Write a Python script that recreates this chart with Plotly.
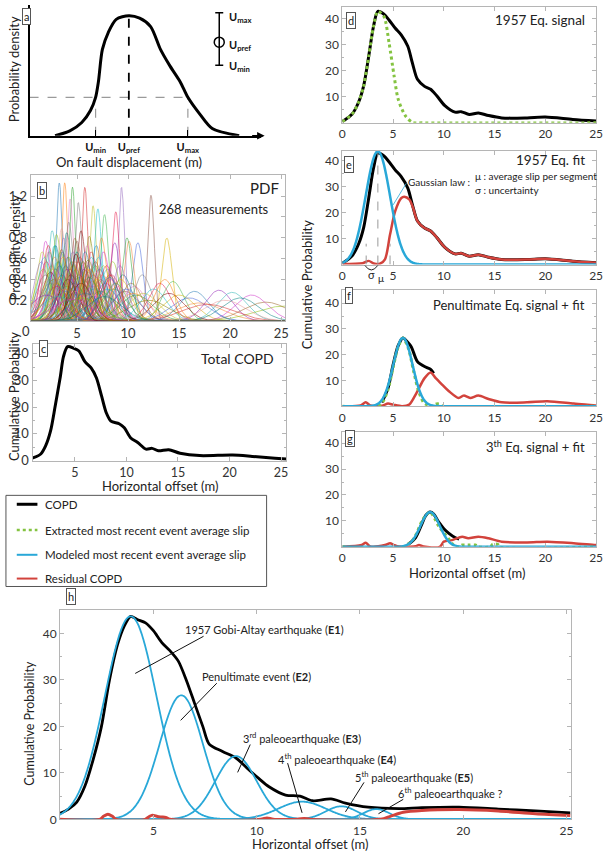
import numpy as np
import plotly.graph_objects as go

FONT = "Lato"
W, H = 609, 860
def px(x): return x / W
def py(y): return 1 - y / H

CYAN = "#29a8d8"; RED = "#d2433c"; GREEN = "#84c341"; BLACK = "#000000"; FRAME = "#b5b5b5"

# ---------------- data ----------------
# panel a: schematic PDF
a_x = [1.09, 1.72, 2.23, 2.6, 2.82, 2.94, 3.11, 3.36, 3.7, 4.24, 4.7, 5.17, 5.59, 6.0, 6.43, 6.76, 7.27, 7.8, 8.95]
a_y = [0.0, 0.04, 0.11, 0.21, 0.32, 0.45, 0.72, 0.86, 0.97, 1.0, 0.98, 0.91, 0.72, 0.58, 0.45, 0.32, 0.18, 0.06, 0.0]
u_min, u_pref, u_max, u_level = 2.82, 4.24, 6.76, 0.32
err_x, err_c, err_hi, err_lo = 8.1, 0.78, 1.025, 0.587

# panel b: individual measurement PDFs (mean, uncertainty)
pdf_mu = [3.27, 3.8, 4.56, 5.77, 9.36, 12.25, 4.33, 5.13, 6.57, 7.05, 8.8, 7.7,
          13.8, 10.96, 10.1, 8.7, 2.57, 1.93, 3.0, 3.5, 4.0, 4.8, 5.4, 6.2, 6.9, 7.4, 9.9, 2.2, 3.7, 5.0, 6.0, 4.2,
          1.6, 1.8, 2.0, 2.3, 2.5, 2.6, 2.8, 2.9, 3.1, 3.2, 3.4, 3.6, 3.9, 4.1, 4.4, 4.5, 4.7, 4.9, 5.2, 5.3,
          5.5, 5.6, 5.9, 6.1, 6.3, 6.4, 6.6, 6.8, 7.0, 7.2, 7.5, 7.8, 8.0, 8.3, 8.5, 9.0, 9.5, 10.3,
          2.4, 2.7, 3.3, 3.6, 4.0, 4.3, 4.6, 5.1, 5.5, 6.0, 6.5, 7.1, 7.9, 8.6,
          3.0, 3.9, 4.8, 5.7, 6.7, 7.6,
          1.7, 2.1, 2.9, 3.5, 4.1, 4.9, 5.8, 6.3, 7.3, 8.2, 9.2, 9.7, 10.6, 11.4,
          11.5, 12.5, 13.1, 14.4, 15.0, 16.0, 17.0, 18.9, 20.2, 22.1, 25.2, 19.5, 21.0, 23.5, 14.0, 12.0,
          16.5, 13.6, 10.8, 17.8,
          1.5, 1.9, 2.2, 2.4, 2.6, 2.8, 3.0, 3.2, 3.4, 3.6, 3.8, 4.0, 4.2, 4.4, 4.6, 4.8, 5.0, 5.2, 5.4, 5.6,
          5.8, 6.0, 6.2, 6.4, 6.6, 6.8, 7.0, 7.3, 7.6, 8.0, 8.4, 8.8, 9.3, 9.8, 10.5, 2.0, 3.1, 4.5, 5.5, 6.6,
          7.7, 3.5, 4.9, 6.1, 8.2]
pdf_sigma = [0.30, 0.30, 0.31, 0.31, 0.31, 0.33, 0.34, 0.35, 0.36, 0.37, 0.38, 0.39,
             0.50, 0.53, 0.52, 0.53, 0.46, 0.52, 0.48, 0.45, 0.47, 0.50, 0.46, 0.49, 0.55, 0.50, 0.50, 0.55, 0.50, 0.52, 0.55, 0.42,
             0.60, 0.65, 0.70, 0.60, 0.75, 0.90, 0.65, 0.80, 0.70, 1.00, 0.60, 0.85, 0.75, 0.65, 0.90, 0.70, 1.10, 0.80, 0.95, 0.65,
             0.75, 1.00, 0.70, 0.85, 1.20, 0.65, 0.90, 0.75, 1.00, 0.80, 0.90, 1.10, 0.80, 1.00, 0.70, 1.20, 0.90, 1.10,
             0.85, 1.00, 0.75, 0.65, 1.20, 0.80, 0.60, 0.70, 1.30, 0.75, 1.05, 0.65, 0.75, 1.30,
             1.10, 1.40, 0.70, 0.80, 1.30, 0.60,
             0.80, 1.00, 0.55, 0.90, 1.00, 1.20, 0.60, 0.80, 1.40, 0.90, 0.75, 1.40, 1.20, 0.90,
             1.50, 1.30, 1.10, 1.05, 1.60, 1.80, 2.30, 1.35, 1.45, 1.60, 2.80, 2.00, 1.80, 2.20, 1.50, 2.00,
             1.40, 1.00, 1.60, 2.50,
             0.70, 0.90, 0.60, 1.10, 0.80, 0.55, 1.20, 0.70, 0.95, 0.60, 1.30, 0.80, 0.65, 1.00, 0.75, 1.40, 0.60, 0.90, 1.10, 0.70,
             1.50, 0.80, 0.95, 0.60, 1.20, 0.70, 0.85, 1.00, 0.75, 1.30, 0.90, 1.10, 1.00, 1.30, 1.50, 1.60, 1.70, 1.90, 1.80, 1.60,
             1.70, 0.58, 0.62, 0.68, 0.95]

# panel c: total COPD
copd_c_x = [0.9, 1.07, 1.7, 2.17, 2.65, 3.1, 3.6, 3.9, 4.3, 4.9, 5.4, 5.98, 6.6, 7.1, 7.6, 8.05, 8.5, 9.3, 9.8,
            10.4, 11.1, 11.9, 12.5, 13.1, 14.1, 15.2, 17.1, 20.3, 22.2, 24.4, 25.5]
copd_c_y = [1.0, 1.2, 2.5, 5.5, 11.1, 20.4, 31.5, 38.9, 42.6, 42.0, 41.0, 37.0, 34.6, 30.9, 24.1, 17.9, 14.8, 13.8, 12.3,
            8.6, 6.8, 4.3, 4.6, 3.7, 4.1, 2.8, 1.9, 2.1, 1.6, 0.9, 0.6]

# panels d, e: COPD and 1957 signal
copd_d_x = [0.0, 0.16, 0.97, 1.6, 2.1, 2.6, 3.07, 3.5, 4.1, 4.6, 5.2, 5.8, 6.45, 6.9, 7.4, 8.1, 8.7, 9.3, 10.1,
            11.1, 11.7, 12.5, 13.4, 14.4, 15.7, 18.2, 20.0, 22.7, 25.0]
copd_d_y = [0.6, 0.9, 3.4, 7.9, 14.2, 25.6, 37.0, 42.8, 41.7, 39.5, 36.4, 33.8, 29.4, 23.0, 16.7, 14.0, 12.9, 10.4, 6.6,
            4.1, 4.3, 3.2, 3.8, 2.8, 1.9, 1.9, 2.2, 1.3, 0.7]
ext_d_x = [0.0, 0.16, 0.97, 1.6, 2.1, 2.6, 3.07, 3.5, 4.1, 4.6, 5.1, 5.5, 6.2, 6.9, 8.0, 25.0]
ext_d_y = [0.6, 0.9, 3.4, 7.9, 14.2, 25.6, 37.0, 42.8, 40.8, 30.8, 18.0, 9.1, 2.8, 0.2, 0.0, 0.0]

fit_e = dict(mu=3.5, sigma=1.2, amp=43.5)
res_e_x = [0.0, 2.0, 2.6, 3.1, 3.7, 4.2, 4.7, 5.2, 5.8, 6.1, 6.6, 6.95, 7.4, 8.1, 8.7, 9.3, 10.1,
           11.1, 11.7, 12.5, 13.4, 14.4, 15.7, 18.2, 20.0, 22.7, 25.0]
res_e_y = [0.2, 0.5, 1.4, 0.4, 0.3, 2.0, 11.5, 20.4, 25.5, 26.1, 25.0, 22.0, 16.7, 14.0, 12.9, 10.4, 6.6,
           4.1, 4.3, 3.2, 3.8, 2.8, 1.9, 1.9, 2.2, 1.3, 0.7]
e_guides_x = [2.35, 3.5, 4.7]
e_guides_top = [8.0, 43.5, 8.0]

# panel f: penultimate event
sig_f_x = [3.9, 4.5, 5.0, 5.5, 5.97, 6.4, 6.8, 7.4, 8.25, 8.7, 9.0]
sig_f_y = [1.5, 7.0, 16.0, 23.5, 26.5, 25.0, 23.0, 17.3, 15.1, 14.3, 12.8]
ext_f_x = [0.0, 3.5, 4.0, 4.5, 5.0, 5.5, 5.97, 6.5, 7.0, 7.5, 8.0, 8.3, 8.6, 9.0, 9.2, 9.6, 9.9, 25.0]
ext_f_y = [0.0, 0.0, 1.8, 6.5, 15.0, 23.0, 26.5, 22.5, 14.0, 6.0, 1.5, 0.6, 0.2, 0.0, 0.8, 0.8, 0.0, 0.0]
fit_f = dict(mu=5.97, sigma=0.95, amp=26.5)
res_f_x = [0.0, 1.8, 2.3, 2.75, 3.9, 4.5, 5.0, 5.9, 6.6, 7.3, 8.1, 8.7, 9.2, 9.85, 10.5, 11.45, 11.95, 12.6, 13.4,
           14.4, 15.7, 18.2, 20.2, 22.8, 24.9, 25.0]
res_f_y = [0.0, 0.3, 1.5, 0.3, 0.2, 1.0, 0.6, 0.0, 0.7, 5.1, 10.9, 13.1, 10.9, 8.3, 5.8, 3.2, 4.1, 3.2, 4.1,
           2.8, 1.5, 1.5, 1.9, 1.0, 0.3, 0.3]

# panel g: 3rd event
sig_g_x = [6.5, 7.2, 7.8, 8.2, 8.65, 9.0, 9.5, 10.0, 10.5, 11.1, 11.5]
sig_g_y = [1.0, 3.5, 8.5, 12.0, 13.4, 12.6, 9.5, 7.0, 5.2, 3.6, 3.0]
ext_g_x = [0.0, 6.0, 7.0, 8.0, 8.65, 9.5, 10.5, 11.0, 11.5, 11.8, 12.4, 13.1, 13.4, 14.6, 14.8, 15.3, 15.5, 25.0]
ext_g_y = [0.0, 0.0, 3.0, 11.0, 13.4, 8.0, 3.0, 0.5, 0.0, 0.7, 0.7, 0.7, 0.0, 0.0, 1.0, 1.0, 0.0, 0.0]
fit_g = dict(mu=8.65, sigma=0.95, amp=13.4)
res_g_x = [0.0, 1.9, 2.3, 2.75, 4.2, 4.7, 5.1, 5.6, 7.2, 7.55, 8.0, 9.6, 10.0, 10.8, 11.8, 12.4, 13.4, 14.4,
           15.7, 18.2, 20.2, 22.8, 24.9, 25.0]
res_g_y = [0.0, 0.7, 1.6, 0.2, 0.7, 1.4, 0.7, 0.1, 0.2, 0.7, 0.1, 0.0, 2.0, 2.6, 3.9, 3.3, 3.9, 3.3,
           2.0, 1.7, 2.0, 1.4, 0.7, 0.7]

# panel h: full decomposition
copd_h_x = [0.49, 0.89, 1.29, 1.68, 2.08, 2.48, 2.87, 3.27, 3.59, 3.9, 4.22, 4.62, 5.0, 5.4, 5.8, 6.2, 6.6, 7.0,
            7.4, 7.7, 8.35, 9.0, 9.54, 10.1, 10.6, 11.4, 12.1, 12.7, 13.6, 14.3, 15.4, 16.9, 18.0, 19.8, 21.7,
            23.5, 25.2]
copd_h_y = [1.3, 2.2, 3.7, 7.1, 12.8, 19.9, 29.9, 37.7, 41.6, 43.7, 43.0, 42.3, 40.6, 38.1, 36.3, 34.1, 29.9, 24.9,
            19.9, 16.2, 14.6, 13.2, 11.0, 8.8, 7.0, 5.2, 5.0, 4.0, 4.4, 3.5, 2.6, 2.3, 2.5, 2.6, 2.2, 1.8, 1.4]
event_mu = [3.9, 6.35, 9.0, 12.2, 14.1, 15.8]
event_sigma = [1.25, 1.05, 1.0, 1.15, 0.75, 0.62]
event_amp = [43.7, 26.7, 13.6, 3.8, 2.8, 2.2]
res_h_x = [0.48, 2.4, 2.6, 2.8, 3.0, 3.2, 4.6, 4.8, 4.95, 5.2, 5.4, 5.6, 5.8, 10.2, 10.5, 10.8, 12.0, 12.3, 12.6,
           16.0, 16.5, 17.1, 18.0, 19.8, 21.7, 23.5, 25.2]
res_h_y = [0.0, 0.0, 0.7, 1.1, 0.7, 0.0, 0.0, 0.6, 0.9, 0.6, 0.5, 0.4, 0.0, 0.0, 0.3, 0.0, 0.0, 0.2, 0.0,
           0.0, 0.7, 1.5, 1.9, 2.1, 1.8, 1.2, 0.8]
event_labels = ["1957 Gobi-Altay earthquake (<b>E1</b>)", "Penultimate event (<b>E2</b>)",
                "3<sup>rd</sup> paleoearthquake (<b>E3</b>)", "4<sup>th</sup> paleoearthquake (<b>E4</b>)",
                "5<sup>th</sup> paleoearthquake (<b>E5</b>)", "6<sup>th</sup> paleoearthquake ?"]
event_label_pos = [(10.4, 40.9), (10.0, 30.7), (12.2, 17.7), (13.9, 13.0), (17.6, 9.2), (19.4, 5.8)]
event_leader = [((7.43, 39.4), (4.12, 31.4)), ((8.07, 29.3), (6.32, 21.3)), ((9.69, 16.1), (9.08, 10.1)),
                ((11.5, 12.1), (12.2, 1.4)), ((15.2, 7.95), (14.3, 1.6)), ((17.1, 4.3), (15.9, 1.2))]

legend_names = ["COPD", "Extracted most recent event average slip",
                "Modeled most recent event average slip", "Residual COPD"]

# ---------------- figure ----------------
fig = go.Figure()
grid = np.linspace(0, 25.5, 520)

def gauss(mu, sigma, amp):
    return amp * np.exp(-(grid - mu) ** 2 / (2 * sigma ** 2))

def line(x, y, ax, color, width, dash=None, name=None, spline=True):
    fig.add_trace(go.Scatter(x=x, y=y, xaxis=ax[0], yaxis=ax[1], mode="lines", name=name,
                             line=dict(color=color, width=width, dash=dash,
                                       shape="spline" if spline else "linear", smoothing=0.8),
                             showlegend=False, hoverinfo="skip"))

# a
A = ("x", "y")
line([0, u_max], [u_level, u_level], A, "#9a9a9a", 1.2, "dash", spline=False)
line([u_min, u_min], [0, u_level], A, "#9a9a9a", 1.2, "dash", spline=False)
line([u_max, u_max], [0, u_level], A, "#9a9a9a", 1.2, "dash", spline=False)
line([u_pref, u_pref], [0, 1.0], A, BLACK, 1.8, "dash", spline=False)
line(a_x, a_y, A, BLACK, 3)
fig.add_trace(go.Scatter(x=[err_x], y=[err_c], xaxis="x", yaxis="y", mode="markers",
                         marker=dict(symbol="circle-open", size=10, color=BLACK, line=dict(width=1.5)),
                         error_y=dict(type="data", symmetric=False, array=[err_hi - err_c],
                                      arrayminus=[err_c - err_lo], color=BLACK, thickness=1.5, width=4),
                         showlegend=False, hoverinfo="skip"))

# b
palette = ["#1f77b4", "#ff7f0e", "#2ca02c", "#d62728", "#9467bd", "#8c564b", "#e377c2", "#7f7f7f",
           "#bcbd22", "#17becf", "#e6194b", "#3cb44b", "#d4b000", "#4363d8", "#f58231", "#911eb4",
           "#2bb5b5", "#d02fc8", "#8bbf0c", "#e89a9a", "#008080", "#9a6324", "#800000", "#808000"]
gb = np.linspace(0.45, 25.4, 420)
for i, (m, s) in enumerate(zip(pdf_mu, pdf_sigma)):
    yv = np.exp(-(gb - m) ** 2 / (2 * s ** 2)) / (s * np.sqrt(2 * np.pi))
    fig.add_trace(go.Scatter(x=gb, y=yv, xaxis="x2", yaxis="y2", mode="lines",
                             line=dict(color=palette[i % len(palette)], width=0.7), opacity=0.75,
                             showlegend=False, hoverinfo="skip"))

# c
line(copd_c_x, copd_c_y, ("x3", "y3"), BLACK, 3)

# d
D = ("x4", "y4")
line(copd_d_x, copd_d_y, D, BLACK, 3, name=legend_names[0])
line(ext_d_x, ext_d_y, D, GREEN, 3, "dot", name=legend_names[1])

# e
E = ("x5", "y5")
line(copd_d_x, copd_d_y, E, BLACK, 3)
line(res_e_x, res_e_y, E, RED, 2.5, name=legend_names[3])
for gx, gt in zip(e_guides_x, e_guides_top):
    line([gx, gx], [0, gt], E, "#9a9a9a", 1, "dash", spline=False)
line(grid, gauss(**fit_e), E, CYAN, 2.5, name=legend_names[2])

# f
Fx = ("x6", "y6")
line(sig_f_x, sig_f_y, Fx, BLACK, 3)
line(res_f_x, res_f_y, Fx, RED, 2.5)
line(ext_f_x, ext_f_y, Fx, GREEN, 3, "dot")
line(grid, gauss(**fit_f), Fx, CYAN, 2.5)

# g
G = ("x7", "y7")
line(sig_g_x, sig_g_y, G, BLACK, 3)
line(res_g_x, res_g_y, G, RED, 2.5)
line(ext_g_x, ext_g_y, G, GREEN, 3, "dot")
line(grid, gauss(**fit_g), G, CYAN, 2.5)

# h
Hh = ("x8", "y8")
line(copd_h_x, copd_h_y, Hh, BLACK, 2.8)
for m, s, a in zip(event_mu, event_sigma, event_amp):
    line(grid, gauss(m, s, a), Hh, CYAN, 1.8)
line(res_h_x, res_h_y, Hh, RED, 3)

# ---------------- axes ----------------
def frame(domx, domy, xr, yr, n, **kw):
    xs = "xaxis" if n == 1 else f"xaxis{n}"
    ys = "yaxis" if n == 1 else f"yaxis{n}"
    base = dict(showline=True, linecolor=FRAME, linewidth=1, mirror="ticks", ticks="inside", ticklen=4,
                tickcolor=FRAME, showgrid=False, zeroline=False,
                tickfont=dict(family=FONT, size=12, color="#333"))
    xa = dict(base, domain=domx, range=xr, anchor="y" if n == 1 else f"y{n}")
    ya = dict(base, domain=domy, range=yr, anchor="x" if n == 1 else f"x{n}")
    xa.update(kw.get("x", {})); ya.update(kw.get("y", {}))
    return {xs: xa, ys: ya}

layout = {}
# a
layout["xaxis"] = dict(domain=[px(27), px(262)], range=[0, 9.87], anchor="y", showline=True, linecolor=BLACK,
                       linewidth=1.5, showgrid=False, zeroline=False, ticks="inside", ticklen=6, tickcolor=BLACK,
                       tickmode="array", tickvals=[u_min, u_pref, u_max],
                       ticktext=["<b>U<sub>min</sub></b>", "<b>U<sub>pref</sub></b>", "<b>U<sub>max</sub></b>"],
                       tickfont=dict(family=FONT, size=11, color="#111"))
layout["yaxis"] = dict(domain=[py(137), py(5)], range=[0, 1.09], anchor="x", showline=True, linecolor=BLACK,
                       linewidth=1.5, showgrid=False, zeroline=False, showticklabels=False, ticks="")
# b
layout.update(frame([px(28), px(287)], [py(324), py(177)], [0.45, 25.4], [0, 1.4], 2,
                    x=dict(tickmode="array", tickvals=[5, 10, 15, 20, 25], tickfont=dict(family=FONT, size=13, color="#333")),
                    y=dict(tickmode="array", tickvals=[0.2, 0.4, 0.6, 0.8, 1.0, 1.2],
                           ticktext=["0.2", "0.4", "0.6", "0.8", "1", "1.2"],
                           tickfont=dict(family=FONT, size=13, color="#333"))))
# c
layout.update(frame([px(30), px(288)], [py(465), py(347)], [0.9, 25.5], [0, 43.7], 3,
                    x=dict(tickmode="array", tickvals=[5, 10, 15, 20, 25], tickfont=dict(family=FONT, size=12.5, color="#333")),
                    y=dict(tickmode="array", tickvals=[0, 10, 20, 30, 40],
                           minor=dict(tickvals=[5, 15, 25, 35], ticks="inside", ticklen=2, tickcolor=FRAME),
                           tickfont=dict(family=FONT, size=13, color="#333"))))
# d-g
for n, (top, bot, ytop) in zip([4, 5, 6, 7], [(7, 124, 44.5), (152, 267, 43.8), (293, 410, 45), (436, 552, 44.3)]):
    layout.update(frame([px(345), px(603)], [py(bot), py(top)], [0, 25], [0, ytop], n,
                        x=dict(tickmode="array", tickvals=[0, 5, 10, 15, 20, 25]),
                        y=dict(tickmode="array", tickvals=[10, 20, 30, 40],
                               minor=dict(tickvals=[5, 15, 25, 35], ticks="inside", ticklen=2, tickcolor=FRAME))))
# h
layout.update(frame([px(58), px(577)], [py(827), py(616)], [0.48, 25.2], [0, 45], 8,
                    x=dict(tickmode="array", tickvals=[5, 10, 15, 20, 25]),
                    y=dict(tickmode="array", tickvals=[0, 10, 20, 30, 40],
                           minor=dict(tickvals=[5, 15, 25, 35], ticks="inside", ticklen=2, tickcolor=FRAME))))

# ---------------- annotations ----------------
ann = []
def text(x, y, t, size=12, xanchor="center", angle=0, color="#222", xref="paper", yref="paper", yanchor="middle"):
    ann.append(dict(x=x, y=y, xref=xref, yref=yref, text=t, showarrow=False, xanchor=xanchor, yanchor=yanchor,
                    textangle=angle, font=dict(family=FONT, size=size, color=color)))

def box(xc, yc, t):
    ann.append(dict(x=px(xc), y=py(yc), xref="paper", yref="paper", text=t, showarrow=False,
                    bordercolor="#555", borderwidth=1, borderpad=1, bgcolor="white",
                    font=dict(family=FONT, size=11, color="#222")))

for lab, (xc, yc) in zip("abcdefgh", [(19, 8), (35, 184), (37, 352), (354, 12), (352, 157), (352, 298),
                                        (353, 443), (64, 611)]):
    box(xc, yc, lab)

# arrow at end of panel-a axis
ann.append(dict(x=px(266), y=py(137), xref="paper", yref="paper", ax=-14, ay=0, text="", showarrow=True,
                arrowhead=2, arrowsize=1, arrowwidth=1.5, arrowcolor=BLACK))
text(px(228), py(18), "<b>U<sub>max</sub></b>", 11, "left", color="#111")
text(px(228), py(46), "<b>U<sub>pref</sub></b>", 11, "left", color="#111")
text(px(228), py(67), "<b>U<sub>min</sub></b>", 11, "left", color="#111")
text(px(12), py(70), "Probability density", 13, angle=-90)
text(px(128), py(164), "On fault displacement (m)", 13)

text(px(12), py(250), "Probability density", 13, angle=-90)
text(px(23), py(334), "0", 13, color="#333")
text(px(283), py(190), "PDF", 15, "right")
text(px(215), py(211), "268 measurements", 13)

text(px(11), py(400), "Cumulative Probability", 13, angle=-90)
text(px(278), py(362), "Total COPD", 14, "right")
text(px(160), py(491), "Horizontal offset (m)", 13)

text(px(594), py(20), "1957 Eq. signal", 13.5, "right")
text(px(594), py(162), "1957 Eq. fit", 13.5, "right")
text(px(477), py(184), "Gaussian law :", 10, "right")
text(px(478), py(178), "μ : average slip per segment", 10, "left")
text(px(478), py(192), "σ : uncertainty", 10, "left")
text(px(375), py(277), "σ", 11)
text(px(384), py(281), "μ", 10)
text(px(594), py(308), "Penultimate Eq. signal + fit", 13, "right")
text(px(594), py(451), "3<sup>th</sup> Eq. signal + fit", 13, "right")
text(px(309), py(287), "Cumulative Probability", 13, angle=-90)
text(px(472), py(578), "Horizontal offset (m)", 13)

for t, (lx, ly) in zip(event_labels, event_label_pos):
    text(lx, ly, t, 11, xref="x8", yref="y8", color="#222")
text(px(27), py(730), "Cumulative Probability", 12.5, angle=-90)
text(px(312), py(852), "Horizontal offset (m)", 13)

shapes = []
for (p0, p1) in event_leader:
    shapes.append(dict(type="line", xref="x8", yref="y8", x0=p0[0], y0=p0[1], x1=p1[0], y1=p1[1],
                       line=dict(color="#111", width=1)))
shapes.append(dict(type="line", xref="x5", yref="y5", x0=5.0, y0=22.9, x1=6.3, y1=31.2,
                   line=dict(color=CYAN, width=0.8)))
shapes.append(dict(type="path", xref="paper", yref="paper",
                   path=f"M {px(368)},{py(268)} Q {px(374.5)},{py(277)} {px(381)},{py(268)}",
                   line=dict(color="#222", width=1)))

# legend box (drawn as a key)
shapes.append(dict(type="rect", xref="paper", yref="paper", x0=px(3), x1=px(268), y0=py(592), y1=py(500),
                   line=dict(color="#555", width=1), fillcolor="white", layer="below"))
key_style = [(BLACK, 3, "solid"), (GREEN, 2.5, "dot"), (CYAN, 2, "solid"), (RED, 2, "solid")]
for name, (col, wd, ds), yk in zip(legend_names, key_style, [509, 535, 560, 584]):
    shapes.append(dict(type="line", xref="paper", yref="paper", x0=px(14), x1=px(35), y0=py(yk), y1=py(yk),
                       line=dict(color=col, width=wd, dash=ds)))
    text(px(41), py(yk), name, 11.5, "left", color="#222")

fig.update_layout(**layout)
fig.update_layout(
    width=W, height=H, margin=dict(l=0, r=0, t=0, b=0),
    paper_bgcolor="white", plot_bgcolor="white",
    font=dict(family=FONT, color="#222"),
    annotations=ann, shapes=shapes, showlegend=False,
)
fig.write_html("out.html")
